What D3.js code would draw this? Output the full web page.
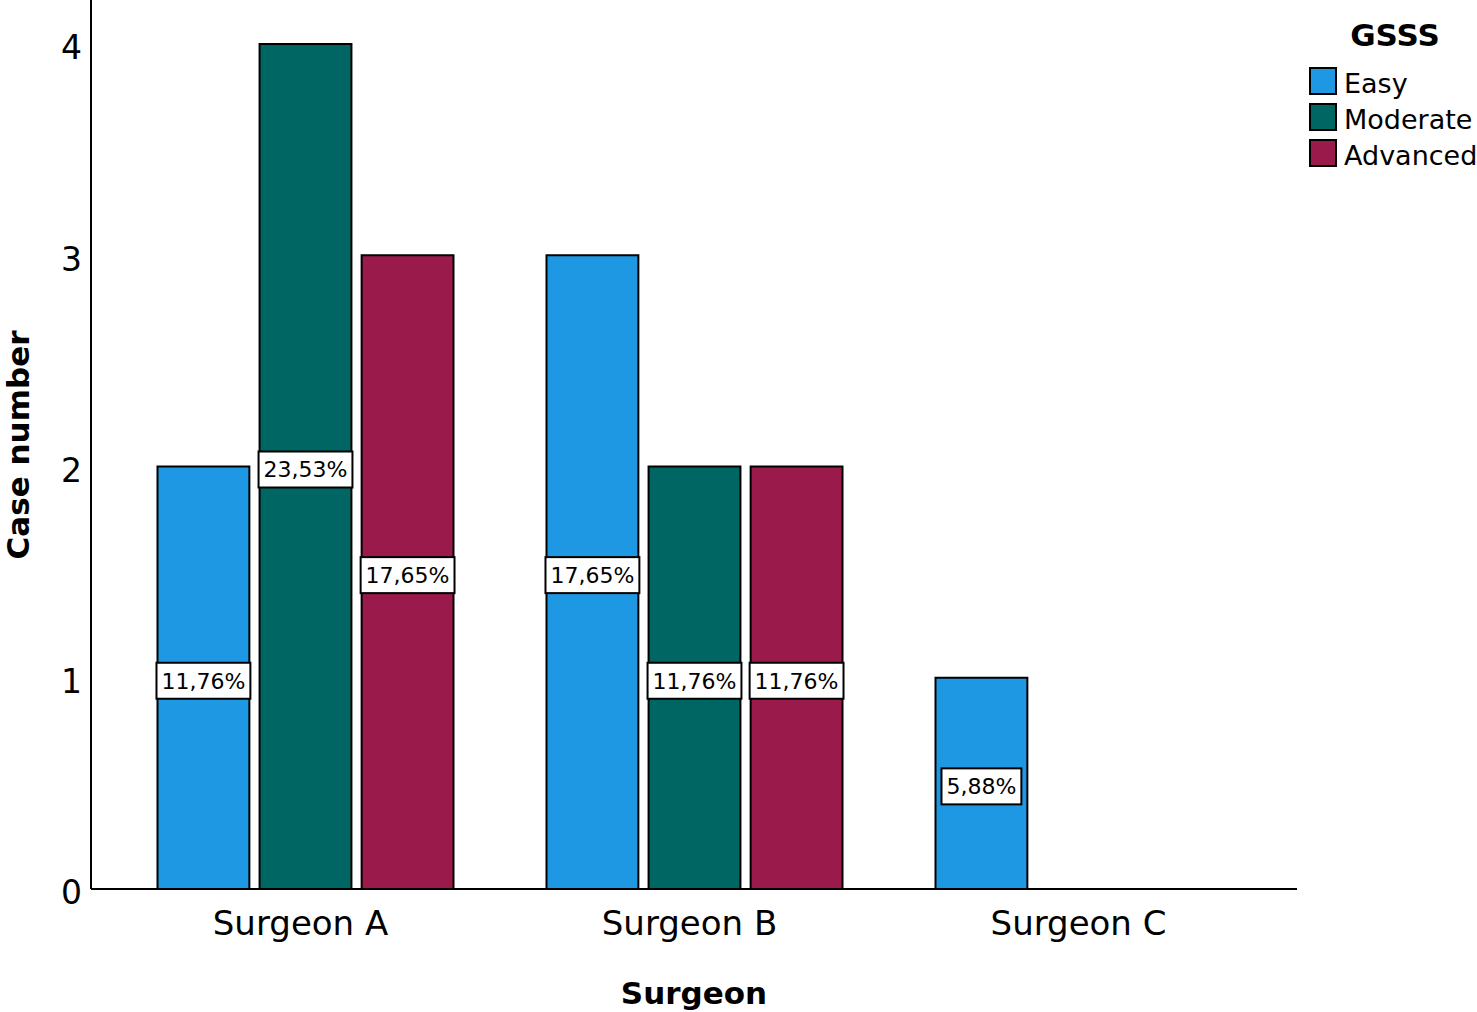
<!DOCTYPE html>
<html><head><meta charset="utf-8">
<script src="https://cdn.jsdelivr.net/npm/d3@7"></script>
<style>body{margin:0;background:#fff}svg{display:block}text{font-family:"DejaVu Sans",sans-serif;fill:#000}</style>
</head><body>
<svg id="c" width="1477" height="1012"></svg>
<script>
const surgeons = ["Surgeon A","Surgeon B","Surgeon C"];
const levels = ["Easy","Moderate","Advanced"];
const easy = [2,3,1];
const moderate = [4,2,0];
const advanced = [3,2,0];
const yTicks = [0,1,2,3,4];
const colors = ["#1f98e4","#006663","#9a1b4b"];

const series = [easy, moderate, advanced];
const total = d3.sum(series.flat());
const data = [];
surgeons.forEach((s,i)=>levels.forEach((l,j)=>data.push({s,l,j,v:series[j][i]})));

const svg = d3.select("#c");
const x = d3.scaleBand().domain(surgeons).range([110,1277]).paddingInner(0).paddingOuter(0);
const xi = d3.scaleBand().domain(levels).range([0,296]).paddingInner(0.1);
const y = d3.scaleLinear().domain([0,4]).range([889,44]);
const groupLeft = s => x(s) + x.bandwidth()/2 - 147;

// bars
const bars = data.filter(d=>d.v>0);
svg.append("g").selectAll("rect").data(bars).join("rect")
  .attr("x", d=>groupLeft(d.s)+xi(d.l))
  .attr("y", d=>y(d.v))
  .attr("width", xi.bandwidth())
  .attr("height", d=>y(0)-y(d.v))
  .attr("fill", d=>colors[d.j])
  .attr("stroke","#000").attr("stroke-width",2);

// axes
const yAxis = d3.axisLeft(y).tickValues(yTicks).tickSize(0).tickPadding(9).tickFormat(d3.format("d"));
const gy = svg.append("g").attr("transform","translate(91,0)").call(yAxis);
gy.select(".domain").attr("d","M0,0V889").attr("stroke","#000").attr("stroke-width",2);
gy.selectAll("text").attr("font-size",33).attr("font-family","DejaVu Sans").attr("dy","0.45em");

const xAxis = d3.axisBottom(x).tickSize(0).tickPadding(22);
const gx = svg.append("g").attr("transform","translate(0,889)").call(xAxis);
gx.select(".domain").attr("d","M91,0H1297").attr("stroke","#000").attr("stroke-width",2);
gx.selectAll("text").attr("font-size",34).attr("font-family","DejaVu Sans").attr("dy","0.71em").attr("dx",-4);

// value labels
const lg = svg.append("g");
bars.forEach(d=>{
  const cx = groupLeft(d.s)+xi(d.l)+xi.bandwidth()/2;
  const cy = y(d.v/2)+3;
  const g = lg.append("g");
  const r = g.append("rect");
  const t = g.append("text").attr("x",cx).attr("y",cy).attr("text-anchor","middle")
    .attr("dy","0.36em").attr("font-size",22)
    .text((d.v/total*100).toFixed(2).replace(".",",")+"%");
  const w = t.node().getComputedTextLength()+10;
  r.attr("x",cx-w/2).attr("y",cy-18).attr("width",w).attr("height",36)
   .attr("fill","#fff").attr("stroke","#000").attr("stroke-width",2);
});

// axis titles
svg.append("text").attr("x",694).attr("y",1004).attr("text-anchor","middle")
  .attr("font-size",31).attr("font-weight","bold").text("Surgeon");
svg.append("text").attr("transform","translate(29,445) rotate(-90)").attr("text-anchor","middle")
  .attr("font-size",31).attr("font-weight","bold").text("Case number");

// legend
const leg = svg.append("g");
leg.append("text").attr("x",1395).attr("y",46).attr("text-anchor","middle")
  .attr("font-size",31).attr("font-weight","bold").text("GSSS");
levels.forEach((l,j)=>{
  const yy = 68 + j*36;
  leg.append("rect").attr("x",1310).attr("y",yy).attr("width",26).attr("height",26)
    .attr("fill",colors[j]).attr("stroke","#000").attr("stroke-width",2);
  leg.append("text").attr("x",1344).attr("y",yy+15).attr("dy","0.36em")
    .attr("font-size",27).text(l);
});
</script>
</body></html>
